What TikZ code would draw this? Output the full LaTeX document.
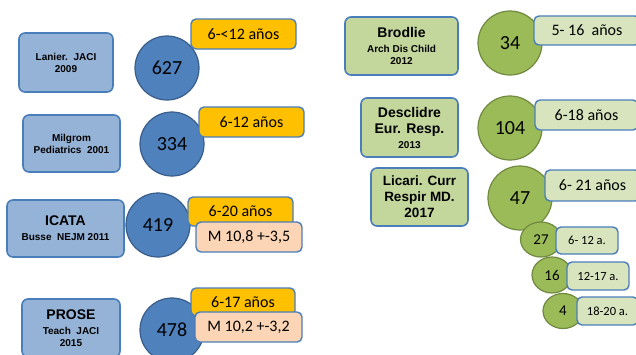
\documentclass[tikz,border=0pt]{standalone}
\usepackage{fontspec}
\usetikzlibrary{shapes.geometric}
\setmainfont{Carlito}
\newfontfamily\arialfont{Liberation Sans}
\definecolor{edgeblue}{HTML}{4A7EBB}
\definecolor{studyblue}{HTML}{95B3D7}
\definecolor{numblue}{HTML}{4F81BD}
\definecolor{numblueedge}{HTML}{385D8A}
\definecolor{ageorange}{HTML}{FFC000}
\definecolor{meanpeach}{HTML}{FBD5B5}
\definecolor{studygreen}{HTML}{C3D69B}
\definecolor{numgreen}{HTML}{9BBB59}
\definecolor{numgreenedge}{HTML}{71893F}
\definecolor{agegreen}{HTML}{D7E4BD}
\tikzset{
  study/.style={draw=edgeblue, line width=1.6pt, rounded corners=6pt, inner sep=0pt,
    align=center, font=\arialfont\bfseries\fontsize{10}{12}\selectfont},
  num/.style={circle, draw=numblueedge, fill=numblue, line width=1.2pt, inner sep=0pt,
    minimum size=64pt, font=\fontsize{20}{22}\selectfont},
  numsmall/.style={ellipse, draw=numgreenedge, fill=numgreen, line width=1.2pt, inner sep=0pt,
    font=\fontsize{15}{17}\selectfont},
  age/.style={draw=edgeblue, line width=1.4pt, rounded corners=5pt, inner sep=0pt,
    font=\fontsize{16}{18}\selectfont},
  agesmall/.style={age, font=\fontsize{12.5}{14}\selectfont},
}
\newcommand{\bigline}[1]{{\fontsize{14}{16}\selectfont #1}}
\begin{document}
\begin{tikzpicture}[x=1pt, y=-1pt]
\useasboundingbox (0,0) rectangle (636,354);
\clip (0,0) rectangle (636,354);
% left column
\node[study, fill=studyblue, minimum width=94pt, minimum height=59pt] (S_0_0) at (66,62.5) {Lanier.\ \ JACI\\2009};
\node[num] (N_0_0) at (167,68) {627};
\node[age, fill=ageorange, minimum width=105pt, minimum height=30pt] (A_0_0) at (243.5,34) {6-<12 años};
\node[study, fill=studyblue, minimum width=97pt, minimum height=57pt] (S_0_1) at (71.5,143.5) {Milgrom\\Pediatrics\ \ 2001};
\node[num] (N_0_1) at (172,144) {334};
\node[age, fill=ageorange, minimum width=105pt, minimum height=30pt] (A_0_1) at (251.5,122) {6-12 años};
\node[study, fill=studyblue, minimum width=117pt, minimum height=57pt] (S_0_2) at (65.5,228.5) {\bigline{ICATA}\\[3pt]Busse\ \ NEJM 2011};
\node[num] (N_0_2) at (158,225) {419};
\node[age, fill=ageorange, minimum width=105pt, minimum height=29pt] (A_0_2) at (240.5,211.5) {6-20 años};
\node[age, fill=meanpeach, minimum width=106pt, minimum height=30pt] (M_0_2) at (249,237) {M 10,8 +-3,5};
\node[study, fill=studyblue, minimum width=98pt, minimum height=58pt] (S_0_3) at (71,328) {\bigline{PROSE}\\[3pt]Teach\ \ JACI\\2015};
\node[num] (N_0_3) at (172,330) {478};
\node[age, fill=ageorange, minimum width=104pt, minimum height=28pt] (A_0_3) at (243,302) {6-17 años};
\node[age, fill=meanpeach, minimum width=107pt, minimum height=30pt] (M_0_3) at (248.5,327) {M 10,2 +-3,2};
% right column
\node[study, fill=studygreen, minimum width=113pt, minimum height=58pt] (S_1_0) at (401.5,46) {\bigline{Brodlie}\\[3pt]Arch\ Dis\ Child\\2012};
\node[num, fill=numgreen, draw=numgreenedge] (N_1_0) at (510,43) {34};
\node[age, fill=agegreen, minimum width=106pt, minimum height=29pt] (A_1_0) at (587,30.5) {5- 16\ \ años};
\node[study, fill=studygreen, minimum width=97pt, minimum height=59pt] (S_1_1) at (409.5,127.5) {\bigline{Desclidre}\\[4pt]\bigline{Eur. Resp.}\\[3pt]2013};
\node[num, fill=numgreen, draw=numgreenedge] (N_1_1) at (510,128) {104};
\node[age, fill=agegreen, minimum width=103pt, minimum height=30pt] (A_1_1) at (586.5,115) {6-18 años};
\node[study, fill=studygreen, minimum width=97pt, minimum height=58pt, font=\arialfont\bfseries\fontsize{13.5}{16}\selectfont] (S_1_2) at (419.5,197) {Licari. Curr\\Respir MD.\\2017};
\node[num, fill=numgreen, draw=numgreenedge] (N_1_2) at (520,198) {47};
\node[age, fill=agegreen, minimum width=95pt, minimum height=31pt] (A_1_2) at (592.5,185.5) {6- 21 años};
\node[numsmall, minimum width=41pt, minimum height=35pt] (N_1_3) at (541,239.5) {27};
\node[agesmall, fill=agegreen, minimum width=62pt, minimum height=27pt] (A_1_3) at (587,240.5) {6- 12 a.};
\node[numsmall, minimum width=40pt, minimum height=36pt] (N_1_4) at (552,275) {16};
\node[agesmall, fill=agegreen, minimum width=62pt, minimum height=28pt] (A_1_4) at (598,276) {12-17 a.};
\node[numsmall, minimum width=40pt, minimum height=35pt] (N_1_5) at (563,311) {4};
\node[agesmall, fill=agegreen, minimum width=61pt, minimum height=28pt] (A_1_5) at (607.5,311) {18-20 a.};
\end{tikzpicture}
\end{document}
